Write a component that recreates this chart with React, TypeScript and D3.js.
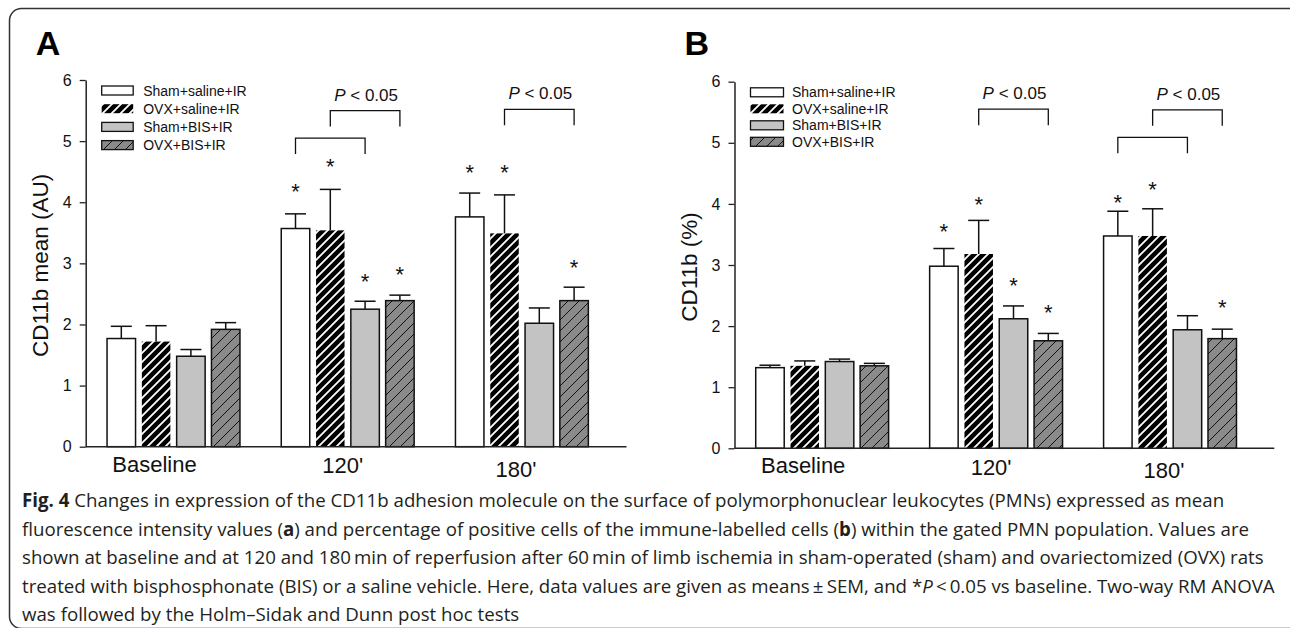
import React, { useEffect, useRef } from "react";
import * as d3 from "d3";

const W = 1290;
const H = 628;
const FONT = "'Liberation Sans', Arial, Helvetica, sans-serif";
const CAP_FONT = "'Open Sans', 'Noto Sans', sans-serif";

// ---------- data ----------
const groups = ["Baseline", "120'", "180'"];
const seriesNames = ["Sham+saline+IR", "OVX+saline+IR", "Sham+BIS+IR", "OVX+BIS+IR"];
const yTicks = [0, 1, 2, 3, 4, 5, 6];

// Panel A: CD11b mean (AU)
const aShamSaline = [1.77, 3.57, 3.76];
const aOvxSaline = [1.72, 3.54, 3.49];
const aShamBis = [1.48, 2.25, 2.02];
const aOvxBis = [1.92, 2.39, 2.39];
const aShamSalineTop = [1.97, 3.81, 4.15];
const aOvxSalineTop = [1.98, 4.21, 4.12];
const aShamBisTop = [1.59, 2.38, 2.27];
const aOvxBisTop = [2.03, 2.48, 2.61];
const aStarGroup = [1, 1, 1, 1, 2, 2, 2];
const aStarSeries = [0, 1, 2, 3, 0, 1, 3];
const aStarLevel = [4.25, 4.66, 2.78, 2.89, 4.56, 4.56, 3.0];
const aBracketGroup = [1, 1, 2];
const aBracketFrom = [0, 1, 1];
const aBracketTo = [2, 3, 3];
const aBracketLevel = [5.05, 5.5, 5.52];
const aBracketLabel = ["", "P < 0.05", "P < 0.05"];

// Panel B: CD11b (%)
const bShamSaline = [1.32, 2.98, 3.475];
const bOvxSaline = [1.35, 3.18, 3.475];
const bShamBis = [1.42, 2.12, 1.94];
const bOvxBis = [1.35, 1.76, 1.795];
const bShamSalineTop = [1.36, 3.27, 3.88];
const bOvxSalineTop = [1.43, 3.73, 3.92];
const bShamBisTop = [1.46, 2.33, 2.17];
const bOvxBisTop = [1.39, 1.88, 1.95];
const bStarGroup = [1, 1, 1, 1, 2, 2, 2];
const bStarSeries = [0, 1, 2, 3, 0, 1, 3];
const bStarLevel = [3.63, 4.06, 2.73, 2.29, 4.09, 4.31, 2.37];
const bBracketGroup = [1, 2, 2];
const bBracketFrom = [1, 1, 0];
const bBracketTo = [3, 3, 2];
const bBracketLevel = [5.55, 5.54, 5.09];
const bBracketLabel = ["P < 0.05", "P < 0.05", ""];

const captionLines = [
  [
    { t: "Fig. 4", b: true },
    { t: " Changes in expression of the CD11b adhesion molecule on the surface of polymorphonuclear leukocytes (PMNs) expressed as mean" },
  ],
  [
    { t: "fluorescence intensity values (" },
    { t: "a", b: true },
    { t: ") and percentage of positive cells of the immune-labelled cells (" },
    { t: "b", b: true },
    { t: ") within the gated PMN population. Values are" },
  ],
  [
    { t: "shown at baseline and at 120 and 180\u2009min of reperfusion after 60\u2009min of limb ischemia in sham-operated (sham) and ovariectomized (OVX) rats" },
  ],
  [
    { t: "treated with bisphosphonate (BIS) or a saline vehicle. Here, data values are given as means\u2009\u00b1\u2009SEM, and *" },
    { t: "P", i: true },
    { t: "\u2009<\u20090.05 vs baseline. Two-way RM ANOVA" },
  ],
  [{ t: "was followed by the Holm\u2013Sidak and Dunn post hoc tests" }],
];

// ---------- styles ----------
const fills = ["#ffffff", "url(#hatchBlack)", "#c3c3c3", "url(#hatchGrey)"];

interface PanelProps {
  letter: string;
  yLabel: string;
  means: number[][];
  tops: number[][];
  starGroup: number[];
  starSeries: number[];
  starLevel: number[];
  brGroup: number[];
  brFrom: number[];
  brTo: number[];
  brLevel: number[];
  brLabel: string[];
  left: number;
  bandEnd: number;
  axisEnd: number;
  y0: number;
  y6: number;
  legendY: number;
  legendStep: number;
  legendBoxW: number;
}

function Panel(p: PanelProps) {
  const axisRef = useRef<SVGGElement>(null);
  const y = d3.scaleLinear().domain([0, 6]).range([p.y0, p.y6]);
  const xg = d3.scaleBand<string>().domain(groups).range([p.left + 0.7, p.bandEnd]).padding(0);
  const half = 67.2;
  const xs = d3
    .scaleBand<number>()
    .domain([0, 1, 2, 3])
    .range([-half, half])
    .paddingInner(0.138)
    .paddingOuter(0);
  const bw = xs.bandwidth();
  const cx = (g: number, s: number) => (xg(groups[g]) as number) + xg.bandwidth() / 2 + (xs(s) as number) + bw / 2;

  useEffect(() => {
    if (!axisRef.current) return;
    const g = d3.select(axisRef.current);
    g.selectAll("*").remove();
    g.call(
      d3
        .axisLeft(y)
        .tickValues(yTicks)
        .tickSizeInner(6)
        .tickSizeOuter(0)
        .tickPadding(8)
        .tickFormat(d3.format("d"))
    );
    g.select(".domain").attr("stroke", "#222").attr("stroke-width", 1.5);
    g.selectAll(".tick line").attr("stroke", "#222").attr("stroke-width", 1.3);
    g.selectAll(".tick text")
      .attr("font-family", FONT)
      .attr("font-size", 16)
      .attr("fill", "#111");
  });

  const labelDx = [-19, -5, -6];
  const labelDy = [0, 1.5, 5];
  const legendTextX = p.left + 57.5;
  const legendBoxX = p.left + 16;

  return (
    <g>
      <text
        x={p.left - 50}
        y={55}
        fontFamily={FONT}
        fontWeight="bold"
        fontSize={34}
        fill="#000"
      >
        {p.letter}
      </text>
      <text
        transform={`translate(${p.left - 45},${(p.y0 + p.y6) / 2 + 2}) rotate(-90)`}
        textAnchor="middle"
        dominantBaseline="central"
        fontFamily={FONT}
        fontSize={22.5}
        fill="#111"
      >
        {p.yLabel}
      </text>
      {/* bars */}
      {p.means.map((arr, s) =>
        arr.map((v, g) => {
          const x = cx(g, s);
          const top = y(v);
          const w = bw - 1.5;
          return (
            <rect
              key={`b${s}-${g}`}
              x={x - w / 2}
              y={top}
              width={w}
              height={y(0) - top}
              fill={fills[s]}
              stroke={s === 1 ? "none" : "#111"}
              strokeWidth={1.5}
            />
          );
        })
      )}
      {/* error bars */}
      {p.tops.map((arr, s) =>
        arr.map((v, g) => {
          const x = cx(g, s);
          return (
            <g key={`e${s}-${g}`} stroke="#111" strokeWidth={1.5}>
              <line x1={x} x2={x} y1={y(p.means[s][g])} y2={y(v)} />
              <line x1={x - 10.5} x2={x + 10.5} y1={y(v)} y2={y(v)} />
            </g>
          );
        })
      )}
      {/* stars */}
      {p.starLevel.map((v, i) => (
        <text
          key={`s${i}`}
          x={cx(p.starGroup[i], p.starSeries[i])}
          y={y(v) + 12}
          textAnchor="middle"
          fontFamily={FONT}
          fontSize={22}
          fill="#111"
        >
          *
        </text>
      ))}
      {/* brackets */}
      {p.brLevel.map((v, i) => {
        const x1 = cx(p.brGroup[i], p.brFrom[i]);
        const x2 = cx(p.brGroup[i], p.brTo[i]);
        const yy = y(v);
        return (
          <g key={`br${i}`}>
            <path
              d={`M${x1},${yy + 16} V${yy} H${x2} V${yy + 16}`}
              fill="none"
              stroke="#111"
              strokeWidth={1.3}
            />
            {p.brLabel[i] && (
              <text
                x={(x1 + x2) / 2 + 1}
                y={yy - 10}
                textAnchor="middle"
                fontFamily={FONT}
                fontSize={17}
                fill="#111"
              >
                <tspan fontStyle="italic">{p.brLabel[i].slice(0, 1)}</tspan>
                {p.brLabel[i].slice(1)}
              </text>
            )}
          </g>
        );
      })}
      {/* x axis */}
      <line x1={p.left} x2={p.axisEnd} y1={y(0)} y2={y(0)} stroke="#222" strokeWidth={1.5} />
      {groups.map((g, i) => (
        <text
          key={g}
          x={(xg(g) as number) + xg.bandwidth() / 2 + labelDx[i]}
          y={y(0) + 25 + labelDy[i]}
          textAnchor="middle"
          fontFamily={FONT}
          fontSize={22}
          fill="#111"
        >
          {g}
        </text>
      ))}
      <g ref={axisRef} transform={`translate(${p.left},0)`} />
      {/* legend */}
      {seriesNames.map((name, i) => {
        const ry = p.legendY + i * p.legendStep;
        return (
          <g key={name}>
            <rect
              x={legendBoxX}
              y={ry - 4.5}
              width={p.legendBoxW}
              height={9}
              fill={fills[i]}
              stroke={i === 1 ? "none" : "#111"}
              strokeWidth={1.3}
            />
            <text x={legendTextX} y={ry + 5} fontFamily={FONT} fontSize={14} fill="#111">
              {name}
            </text>
          </g>
        );
      })}
    </g>
  );
}

export default function App() {
  const aMeans = [aShamSaline, aOvxSaline, aShamBis, aOvxBis];
  const aTops = [aShamSalineTop, aOvxSalineTop, aShamBisTop, aOvxBisTop];
  const bMeans = [bShamSaline, bOvxSaline, bShamBis, bOvxBis];
  const bTops = [bShamSalineTop, bOvxSalineTop, bShamBisTop, bOvxBisTop];
  const capBase = [507, 535.5, 564, 592.5, 621];

  return (
    <svg
      width={W}
      height={H}
      style={{ position: "absolute", left: 0, top: 0, background: "#fff" }}
    >
      <defs>
        <pattern id="hatchBlack" patternUnits="userSpaceOnUse" width={9} height={9}>
          <rect width={9} height={9} fill="#000" />
          <path d="M-2,2 L2,-2 M0,9 L9,0 M7,11 L11,7" stroke="#fff" strokeWidth={1.8} />
        </pattern>
        <pattern id="hatchGrey" patternUnits="userSpaceOnUse" width={11} height={11}>
          <rect width={11} height={11} fill="#8a8a8a" />
          <path d="M-2,2 L2,-2 M0,11 L11,0 M9,13 L13,9" stroke="#111" strokeWidth={1} />
        </pattern>
      </defs>
      <rect x={0} y={0} width={W} height={H} fill="#fff" />
      <rect x={9.5} y={8.5} width={1292} height={620} rx={12} fill="none" stroke="#333" strokeWidth={1.5} />
      <Panel
        letter="A"
        yLabel="CD11b mean (AU)"
        means={aMeans}
        tops={aTops}
        starGroup={aStarGroup}
        starSeries={aStarSeries}
        starLevel={aStarLevel}
        brGroup={aBracketGroup}
        brFrom={aBracketFrom}
        brTo={aBracketTo}
        brLevel={aBracketLevel}
        brLabel={aBracketLabel}
        left={85.7}
        bandEnd={609}
        axisEnd={626.5}
        y0={446.7}
        y6={80}
        legendY={90.5}
        legendStep={18.2}
        legendBoxW={31.5}
      />
      <Panel
        letter="B"
        yLabel="CD11b (%)"
        means={bMeans}
        tops={bTops}
        starGroup={bStarGroup}
        starSeries={bStarSeries}
        starLevel={bStarLevel}
        brGroup={bBracketGroup}
        brFrom={bBracketFrom}
        brTo={bBracketTo}
        brLevel={bBracketLevel}
        brLabel={bBracketLabel}
        left={734.5}
        bandEnd={1257}
        axisEnd={1274.3}
        y0={448.3}
        y6={81.7}
        legendY={92.3}
        legendStep={16.5}
        legendBoxW={33}
      />
      {captionLines.map((line, i) => (
        <text key={i} x={22} y={capBase[i]} fontFamily={CAP_FONT} fontSize={18.7} fill="#231f20">
          {line.map((seg: any, j: number) => (
            <tspan key={j} fontWeight={seg.b ? "bold" : "normal"} fontStyle={seg.i ? "italic" : "normal"}>
              {seg.t}
            </tspan>
          ))}
        </text>
      ))}
    </svg>
  );
}
